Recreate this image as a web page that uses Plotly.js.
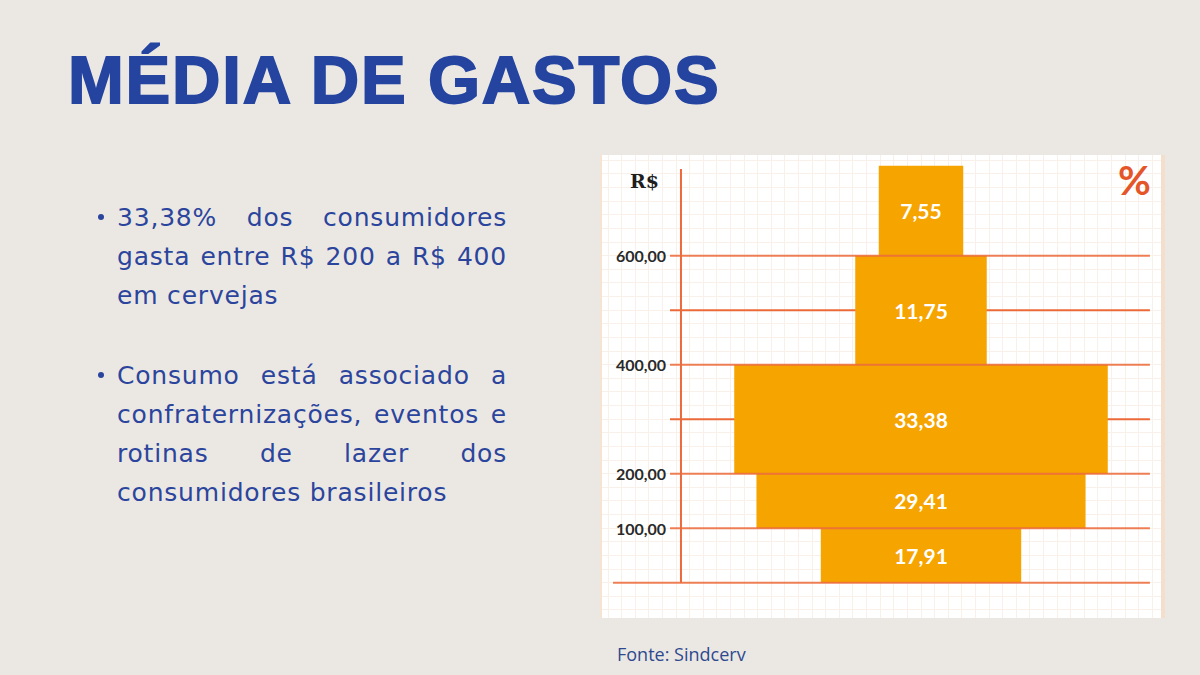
<!DOCTYPE html>
<html>
<head>
<meta charset="utf-8">
<script src="https://cdn.plot.ly/plotly-3.0.1.min.js"></script>
<style>
  html, body { margin: 0; padding: 0; }
  body { width: 1200px; height: 675px; background: #ebe8e4; position: relative; overflow: hidden; }
  #title {
    position: absolute; left: 68px; top: 46px; margin: 0;
    font-family: "Liberation Sans", Arial, sans-serif; font-weight: 700;
    font-size: 67px; line-height: 1; letter-spacing: 1.8px;
    color: #2444a0; -webkit-text-stroke: 1.8px #2444a0; white-space: nowrap;
  }
  .para { position: absolute; left: 117px; width: 390px;
    font-family: "DejaVu Sans", sans-serif; font-size: 25px; letter-spacing: 0.8px; line-height: 39px; color: #2b459d; }
  .para .ln { display: block; text-align: justify; text-align-last: justify; white-space: nowrap; }
  .para .ln.last { text-align-last: left; }
  .dot { position: absolute; left: -19px; top: 16px; width: 6px; height: 6px; border-radius: 50%; background: #2b459d; }
  #panel { position: absolute; left: 602px; top: 155px; width: 559px; height: 463px;
    border-left: 2px solid #f6e3d2; border-right: 4px solid #f3dfcc; box-sizing: content-box; margin-left: -2px; }
  #chart { width: 559px; height: 463px; }
  #fonte { position: absolute; left: 617px; top: 645px; font-family: "Open Sans", sans-serif;
    font-size: 18px; line-height: 1; color: #2e4a8f; }
</style>
</head>
<body>
<h1 id="title">MÉDIA DE GASTOS</h1>

<div class="para" style="top:198px;">
  <span class="dot"></span>
  <span class="ln">33,38% dos consumidores</span>
  <span class="ln">gasta entre R$ 200 a R$ 400</span>
  <span class="ln last">em cervejas</span>
</div>
<div class="para" style="top:356px;">
  <span class="dot"></span>
  <span class="ln">Consumo está associado a</span>
  <span class="ln">confraternizações, eventos e</span>
  <span class="ln">rotinas de lazer dos</span>
  <span class="ln last">consumidores brasileiros</span>
</div>

<div id="panel"><div id="chart"></div></div>
<div id="fonte">Fonte: Sindcerv</div>

<script>
// ---- data ----
const binLow  = [0, 100, 200, 400, 600];          // R$ lower edge of each band
const binHigh = [100, 200, 400, 600, 765];        // R$ upper edge (top band drawn open-ended)
const percent = [17.91, 29.41, 33.38, 11.75, 7.55];
const tickValues = [100, 200, 400, 600];
const tickLabels = ['100,00', '200,00', '400,00', '600,00'];
const innerLevels = [300, 500];                   // unlabeled guide lines
const axisTitleY = 'R$';
const axisTitleX = '%';

// ---- derived ----
const mids = binLow.map((lo, i) => (lo + binHigh[i]) / 2);
const heights = binLow.map((lo, i) => binHigh[i] - lo);
const bases = percent.map(p => -p / 2);
const labels = percent.map(p => p.toFixed(2).replace('.', ','));

const LINE = '#ec6a3a';
const STUB_X = -22.43, END_X = 20.46, BASE_X = -27.52, AXIS_X = -21.45, AXIS_TOP = 759;

const shapes = [];
// inner guide lines (behind bars, above grid)
innerLevels.forEach(v => shapes.push({type: 'line', xref: 'x', yref: 'y', x0: STUB_X, x1: END_X, y0: v, y1: v,
  line: {color: LINE, width: 2}, layer: 'between'}));
// vertical axis line
shapes.push({type: 'line', xref: 'x', yref: 'y', x0: AXIS_X, x1: AXIS_X, y0: 0, y1: AXIS_TOP,
  line: {color: LINE, width: 2}, layer: 'between'});
// band edges (above bars)
binLow.forEach(v => shapes.push({type: 'line', xref: 'x', yref: 'y', x0: v === 0 ? BASE_X : STUB_X, x1: END_X, y0: v, y1: v,
  line: {color: LINE, width: 2}, opacity: 0.85, layer: 'above'}));

const annotations = tickValues.map((v, i) => ({
  x: -22.61, y: v, xref: 'x', yref: 'y', text: tickLabels[i], showarrow: false,
  xanchor: 'right', yanchor: 'middle',
  font: {family: 'Lato, sans-serif', size: 16, weight: 700, color: '#2a2a2a'}
}));
annotations.push({x: 0.0769, y: 0.944, xref: 'paper', yref: 'paper', text: axisTitleY, showarrow: false,
  xanchor: 'center', yanchor: 'middle',
  font: {family: '"DejaVu Serif", serif', size: 19, weight: 700, color: '#1e1e1e'}});
annotations.push({x: 0.9517, y: 0.946, xref: 'paper', yref: 'paper', text: axisTitleX, showarrow: false,
  xanchor: 'center', yanchor: 'middle',
  font: {family: 'Lato, sans-serif', size: 40, weight: 700, color: '#e5552a'}});

const bars = {
  type: 'bar', orientation: 'h',
  y: mids, x: percent, base: bases, width: heights,
  marker: {color: '#f6a400', line: {width: 0}},
  text: labels, textposition: 'inside', insidetextanchor: 'middle', textangle: 0,
  textfont: {family: 'Lato, sans-serif', size: 21, weight: 700, color: '#ffffff'},
  hoverinfo: 'skip'
};

const layout = {
  width: 559, height: 463,
  margin: {l: 0, r: 0, t: 0, b: 0, pad: 0},
  paper_bgcolor: '#ffffff', plot_bgcolor: '#ffffff',
  showlegend: false,
  xaxis: {range: [-28.507, 21.448], showgrid: true, gridcolor: '#f9f1e9', gridwidth: 1,
    dtick: 1.2155, tick0: 0, showticklabels: false, zeroline: false, ticks: '', showline: false, fixedrange: true},
  yaxis: {range: [-64.77, 784.77], showgrid: true, gridcolor: '#f9f1e9', gridwidth: 1,
    dtick: 25, tick0: 0, showticklabels: false, zeroline: false, ticks: '', showline: false, fixedrange: true},
  shapes: shapes,
  annotations: annotations
};

Plotly.newPlot('chart', [bars], layout, {displayModeBar: false, staticPlot: true});
</script>
</body>
</html>
